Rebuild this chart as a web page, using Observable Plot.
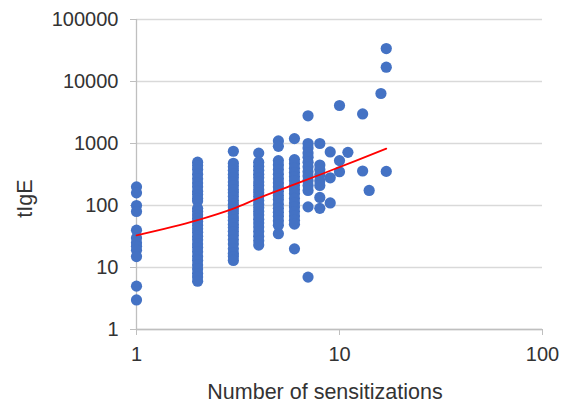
<!DOCTYPE html>
<html><head><meta charset="utf-8">
<script src="https://cdn.jsdelivr.net/npm/d3@7"></script>
<script src="https://cdn.jsdelivr.net/npm/@observablehq/plot@0.6"></script>
<style>
html,body{margin:0;padding:0;background:#fff;}
</style>
</head><body><div id="chart"></div>
<script>
// tIgE values for each number of sensitizations
const tIgE1 = [200, 160, 100, 80, 40, 30, 25, 22, 19, 15, 5, 3];
const tIgE2 = [500, 440, 380, 320, 270, 230, 200, 170, 150, 130, 118, 90, 80, 70, 62, 55, 48, 42, 37, 32, 28, 24, 21, 18, 15, 13, 11, 9.5, 8, 7, 6];
const tIgE3 = [750, 480, 420, 370, 320, 280, 240, 210, 180, 160, 140, 120, 105, 95, 85, 75, 65, 58, 50, 44, 38, 33, 28, 24, 20, 17, 15, 13];
const tIgE4 = [700, 500, 430, 370, 320, 280, 240, 210, 180, 160, 140, 120, 105, 92, 80, 70, 60, 52, 45, 38, 32, 27, 23];
const tIgE5 = [1100, 900, 530, 450, 380, 320, 270, 230, 200, 170, 145, 125, 105, 90, 78, 67, 57, 48, 35];
const tIgE6 = [1200, 550, 470, 400, 340, 290, 250, 210, 180, 155, 130, 110, 95, 80, 68, 58, 50, 20];
const tIgE7 = [2800, 1000, 850, 700, 600, 500, 420, 350, 300, 250, 210, 175, 95, 7];
const tIgE8 = [1000, 450, 380, 310, 250, 210, 135, 90];
const tIgE9 = [730, 280, 110];
const tIgE10 = [4100, 530, 350];
const tIgE11 = [720];
const tIgE13 = [3000, 360];
const tIgE14 = [175];
const tIgE16 = [6400];
const tIgE17 = [34000, 17000, 355];

const sensitizations = [1, 2, 3, 4, 5, 6, 7, 8, 9, 10, 11, 13, 14, 16, 17];
const series = [tIgE1, tIgE2, tIgE3, tIgE4, tIgE5, tIgE6, tIgE7, tIgE8, tIgE9, tIgE10, tIgE11, tIgE13, tIgE14, tIgE16, tIgE17];

// trend line
const trendX = [1, 2, 3, 4, 6, 8, 12, 17];
const trendY = [33, 58, 89, 132, 219, 313, 525, 826];

const xTicks = [1, 10, 100];
const yTicks = [1, 10, 100, 1000, 10000, 100000];

const points = sensitizations.flatMap((n, i) => series[i].map(v => ({n, v})));
const trend = trendX.map((x, i) => ({x, y: trendY[i]}));

const chart = Plot.plot({
  width: 566, height: 403,
  marginLeft: 136, marginRight: 24, marginTop: 19, marginBottom: 74,
  style: {fontFamily: "'Liberation Sans', Arial, sans-serif", fontSize: "20px", color: "#333", background: "#fff"},
  x: {type: "log", domain: [1, 100]},
  y: {type: "log", domain: [1, 100000]},
  marks: [
    Plot.ruleY(yTicks, {stroke: "#d9d9d9", strokeWidth: 1.3}),
    Plot.ruleX([1], {stroke: "#bfbfbf", strokeWidth: 1.3}),
    Plot.ruleY([1], {stroke: "#bfbfbf", strokeWidth: 1.3}),
    Plot.axisX({ticks: xTicks, tickFormat: d => String(d), tickSize: 6, tickPadding: 11, stroke: "#bfbfbf", label: null, fontSize: 20}),
    Plot.axisY({ticks: yTicks, tickFormat: d => String(d), tickSize: 6, tickPadding: 12, stroke: "#bfbfbf", label: null, fontSize: 20}),
    Plot.dot(points, {x: "n", y: "v", r: 5.6, fill: "#4472C4", stroke: "none"}),
    Plot.line(trend, {x: "x", y: "y", stroke: "#FF0000", strokeWidth: 1.7, curve: "monotone-x"}),
    Plot.text(["tIgE"], {frameAnchor: "left", textAnchor: "middle", lineAnchor: "middle", dx: -111, dy: 24, rotate: -90, fontSize: 21.5}),
    Plot.text(["Number of sensitizations"], {frameAnchor: "bottom", textAnchor: "middle", lineAnchor: "middle", dx: -14.5, dy: 63, fontSize: 21.5})
  ]
});
document.getElementById("chart").appendChild(chart);
</script>
</body></html>
